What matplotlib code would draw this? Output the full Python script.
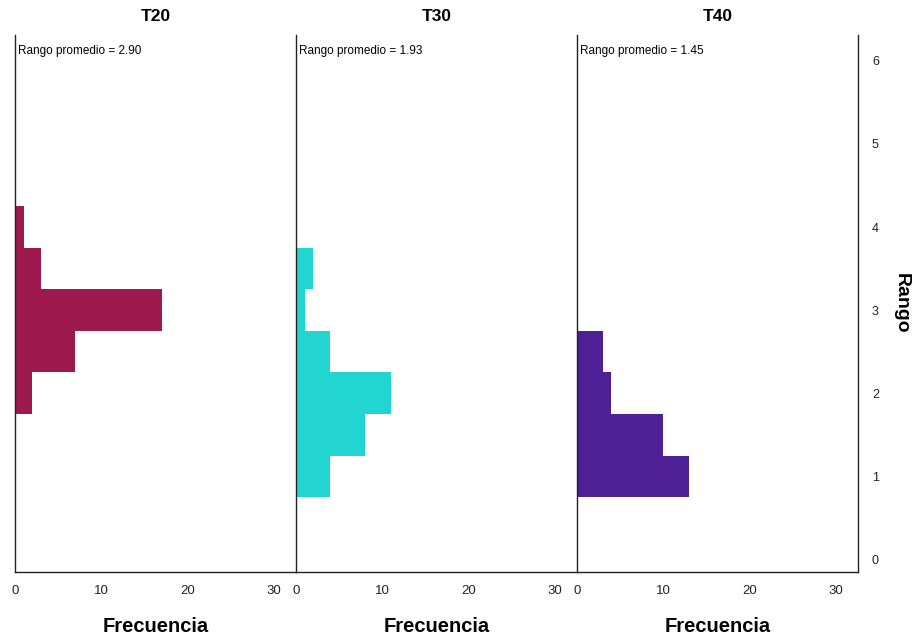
import matplotlib.pyplot as plt

plt.rcParams['font.family'] = ['Liberation Sans', 'DejaVu Sans']

# data (bin centre -> frequency)
groups = ["T20", "T30", "T40"]
means = [2.90, 1.93, 1.45]
t20_bins = [2.0, 2.5, 3.0, 3.5, 4.0]
t20_counts = [2, 7, 17, 3, 1]
t30_bins = [1.0, 1.5, 2.0, 2.5, 3.0, 3.5]
t30_counts = [4, 8, 11, 4, 1, 2]
t40_bins = [1.0, 1.5, 2.0, 2.5]
t40_counts = [13, 10, 4, 3]
colors = ["#9e1a4e", "#23d5d1", "#4f1f96"]
binw = 0.5

all_bins = [t20_bins, t30_bins, t40_bins]
all_counts = [t20_counts, t30_counts, t40_counts]

fig = plt.figure(figsize=(9.16, 6.37), dpi=100)

left = 15 / 916
w = 281 / 916
bottom = 1 - 572 / 637
h = (572 - 35) / 637

for i in range(3):
    ax = fig.add_axes([left + i * w, bottom, w, h])
    edges = [b - binw / 2 for b in all_bins[i]] + [all_bins[i][-1] + binw / 2]
    ax.stairs(all_counts[i], edges, orientation="horizontal", fill=True,
              color=colors[i], linewidth=0)
    ax.set_xlim(0, 32.6)
    ax.set_ylim(-0.15, 6.31)
    ax.set_xticks([0, 10, 20, 30])
    ax.tick_params(axis="x", length=0, pad=9, labelsize=9.5, colors="#222222")
    ax.spines["top"].set_visible(False)
    ax.spines["right"].set_visible(i == 2)
    for s in ax.spines.values():
        s.set_linewidth(1.0)
        s.set_color("#222222")
        s.set_zorder(3)
    ax.set_xlabel("Frecuencia", fontsize=14.5, labelpad=15, fontweight="bold")
    ax.set_title(groups[i], fontsize=12.5, fontweight="bold", pad=10)
    ax.text(0.3, 6.12, "Rango promedio = %.2f" % means[i], fontsize=8.5,
            va="center", ha="left")
    if i == 2:
        ax.yaxis.tick_right()
        ax.yaxis.set_label_position("right")
        ax.set_yticks(range(0, 7))
        ax.tick_params(axis="y", length=0, pad=10, labelsize=9, colors="#222222")
        ax.set_ylabel("Rango", fontsize=14, rotation=270, labelpad=22,
                      fontweight="bold")
    else:
        ax.set_yticks([])

fig.savefig("out.png", dpi=100)
